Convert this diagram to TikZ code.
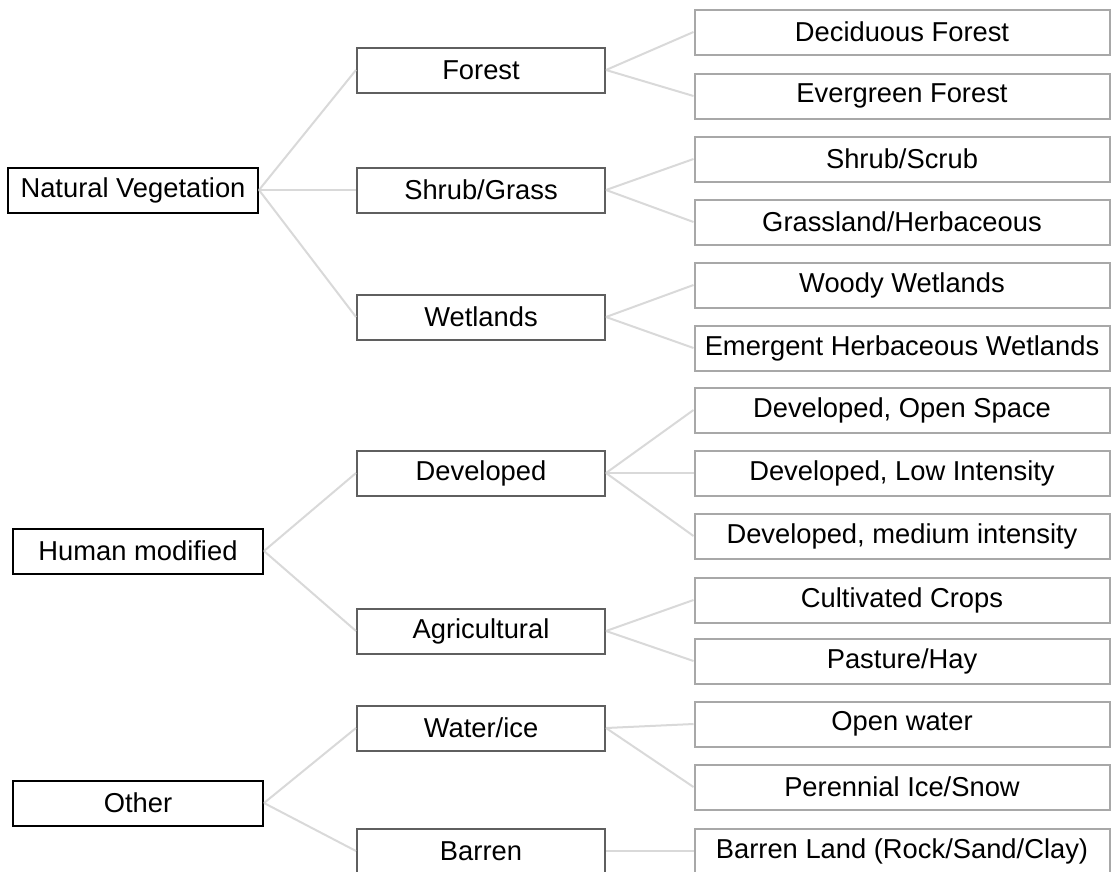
\documentclass[tikz,border=0pt]{standalone}
\usepackage{fontspec}
\setmainfont{Liberation Sans}
\usetikzlibrary{positioning}

\definecolor{linkgray}{HTML}{D9D9D9}
\definecolor{midgray}{HTML}{5F5F5F}
\definecolor{lightgray}{HTML}{A8A8A8}

\begin{document}
\begin{tikzpicture}[x=0.75pt, y=-0.75pt,
    font=\fontsize{20.5}{24}\selectfont,
    top/.style={draw=black, line width=1.5pt, minimum width=187.5pt,
                minimum height=33.75pt, inner sep=0pt},
    mid/.style={draw=midgray, line width=1.5pt, minimum width=186pt,
                minimum height=33.75pt, inner sep=0pt},
    leaf/.style={draw=lightgray, line width=1.5pt, minimum width=311.25pt,
                 minimum height=33.75pt, inner sep=0pt},
    link/.style={draw=linkgray, line width=1.5pt}]
    \useasboundingbox (0,0) rectangle (1112,871);
    % Add the main classes
    \node[top] (nat) at (133,190) {Natural Vegetation};
    \node[top] (hum) at (138,551) {Human modified};
    \node[top] (oth) at (138,803) {Other};
    % Add the sub classes
    \node[mid] (for) at (481,70)  {Forest};
    \node[mid] (shr) at (481,190) {Shrub/Grass};
    \node[mid] (wet) at (481,317) {Wetlands};
    \node[mid] (dev) at (481,473) {Developed};
    \node[mid] (agr) at (481,631) {Agricultural};
    \node[mid] (wat) at (481,728) {Water/ice};
    \node[mid] (bar) at (481,851) {Barren};
    % Add the land cover types
    \node[leaf] (decid) at (902,32)  {Deciduous Forest};
    \node[leaf] (everg) at (902,96)  {Evergreen Forest};
    \node[leaf] (scrub) at (902,159) {Shrub/Scrub};
    \node[leaf] (grass) at (902,222) {Grassland/Herbaceous};
    \node[leaf] (woody) at (902,285) {Woody Wetlands};
    \node[leaf] (emerg) at (902,348) {Emergent Herbaceous Wetlands};
    \node[leaf] (dopen) at (902,410) {Developed, Open Space};
    \node[leaf] (dlow)  at (902,473) {Developed, Low Intensity};
    \node[leaf] (dmed)  at (902,536) {Developed, medium intensity};
    \node[leaf] (crops) at (902,600) {Cultivated Crops};
    \node[leaf] (past)  at (902,661) {Pasture/Hay};
    \node[leaf] (water) at (902,724) {Open water};
    \node[leaf] (ice)   at (902,787) {Perennial Ice/Snow};
    \node[leaf] (rock)  at (902,851) {Barren Land (Rock/Sand/Clay)};
    % Connect the classes
    \draw[link]
        (nat.east) edge (for.west)
        (nat.east) edge (shr.west)
        (nat.east) edge (wet.west)
        (hum.east) edge (dev.west)
        (hum.east) edge (agr.west)
        (oth.east) edge (wat.west)
        (oth.east) edge (bar.west)
        (for.east) edge (decid.west)
        (for.east) edge (everg.west)
        (shr.east) edge (scrub.west)
        (shr.east) edge (grass.west)
        (wet.east) edge (woody.west)
        (wet.east) edge (emerg.west)
        (dev.east) edge (dopen.west)
        (dev.east) edge (dlow.west)
        (dev.east) edge (dmed.west)
        (agr.east) edge (crops.west)
        (agr.east) edge (past.west)
        (wat.east) edge (water.west)
        (wat.east) edge (ice.west)
        (bar.east) edge (rock.west);
\end{tikzpicture}
\end{document}
